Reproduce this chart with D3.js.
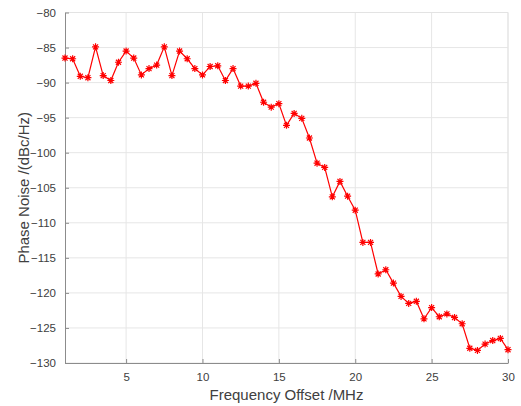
<!DOCTYPE html>
<html>
<head>
<meta charset="utf-8">
<script src="https://cdn.jsdelivr.net/npm/d3@7"></script>
<style>
  body { margin: 0; background: #fff; }
  svg text { font-family: "Liberation Sans", Arial, sans-serif; }
</style>
</head>
<body>
<div id="chart"></div>
<script>
// frequency offset (MHz), step 0.5
var freqs = d3.range(1, 30.01, 0.5);
// phase noise (dBc/Hz)
var noise = [
    -86.5, -86.6, -89.1, -89.3, -84.9, -89.0, -89.7, -87.1, -85.5, -86.5,
    -88.9, -88.0, -87.5, -84.9, -89.0, -85.5, -86.6, -88.0, -88.9, -87.7,
    -87.6, -89.7, -88.0, -90.5, -90.5, -90.1, -92.8, -93.5, -93.0, -96.1,
    -94.4, -95.1, -97.9, -101.5, -102.1, -106.3, -104.1, -106.2, -108.2, -112.8,
    -112.8, -117.3, -116.7, -118.6, -120.5, -121.5, -121.2, -123.7, -122.1, -123.4,
    -123.0, -123.5, -124.4, -127.9, -128.2, -127.3, -126.8, -126.5, -128.1
];
var xTicks = [5, 10, 15, 20, 25, 30];
var yTicks = [-130, -125, -120, -115, -110, -105, -100, -95, -90, -85, -80];

var width = 521, height = 406;
var margin = {left: 65, right: 13, top: 12.5, bottom: 43};
var w = width - margin.left - margin.right,
    h = height - margin.top - margin.bottom;

var svg = d3.select("#chart").append("svg")
    .attr("width", width).attr("height", height);
var g = svg.append("g")
    .attr("transform", "translate(" + margin.left + "," + margin.top + ")");

var x = d3.scaleLinear().domain([1, 30]).range([0, w]);
var y = d3.scaleLinear().domain([-130, -80]).range([h, 0]);

// grid
g.append("g").selectAll("line").data(xTicks).enter().append("line")
    .attr("x1", function(d){ return x(d); }).attr("x2", function(d){ return x(d); })
    .attr("y1", 0).attr("y2", h)
    .attr("stroke", "#e6e6e6").attr("stroke-width", 1);
g.append("g").selectAll("line").data(yTicks).enter().append("line")
    .attr("x1", 0).attr("x2", w)
    .attr("y1", function(d){ return y(d); }).attr("y2", function(d){ return y(d); })
    .attr("stroke", "#e6e6e6").attr("stroke-width", 1);

// box top/right
g.append("path").attr("d", "M0,0H" + w + "V" + h)
    .attr("fill", "none").attr("stroke", "#e3e3e3").attr("stroke-width", 1);

// axes
var xAxis = g.append("g").attr("transform", "translate(0," + h + ")")
    .call(d3.axisBottom(x).tickValues(xTicks).tickSizeInner(-4).tickSizeOuter(0).tickPadding(10));
var yAxis = g.append("g")
    .call(d3.axisLeft(y).tickValues(yTicks).tickSizeInner(-4).tickSizeOuter(0).tickPadding(9));
[xAxis, yAxis].forEach(function(a){
    a.select(".domain").attr("stroke", "#8c8c8c");
    a.selectAll(".tick line").attr("stroke", "#8c8c8c");
    a.selectAll(".tick text").attr("fill", "#404040").style("font-size", "11.5px");
});

// line
var data = freqs.map(function(f, i){ return {f: f, v: noise[i]}; });
var line = d3.line().x(function(d){ return x(d.f); }).y(function(d){ return y(d.v); });
g.append("path").datum(data).attr("d", line)
    .attr("fill", "none").attr("stroke", "#ff0000").attr("stroke-width", 1.2);

// asterisk markers
var r = 3.5, rd = r * 0.72;
var star = "M" + (-r) + ",0H" + r + "M0," + (-r) + "V" + r +
    "M" + (-rd) + "," + (-rd) + "L" + rd + "," + rd +
    "M" + (-rd) + "," + rd + "L" + rd + "," + (-rd);
g.append("g").selectAll("path").data(data).enter().append("path")
    .attr("d", star)
    .attr("transform", function(d){ return "translate(" + x(d.f) + "," + y(d.v) + ")"; })
    .attr("fill", "none").attr("stroke", "#ff0000").attr("stroke-width", 1.2);

// labels
svg.append("text")
    .attr("x", margin.left + w / 2).attr("y", 400)
    .attr("text-anchor", "middle").attr("fill", "#404040").style("font-size", "15px")
    .text("Frequency Offset /MHz");
svg.append("text")
    .attr("transform", "translate(29," + (margin.top + h / 2) + ") rotate(-90)")
    .attr("text-anchor", "middle").attr("fill", "#404040").style("font-size", "15px")
    .text("Phase Noise /(dBc/Hz)");
</script>
</body>
</html>
